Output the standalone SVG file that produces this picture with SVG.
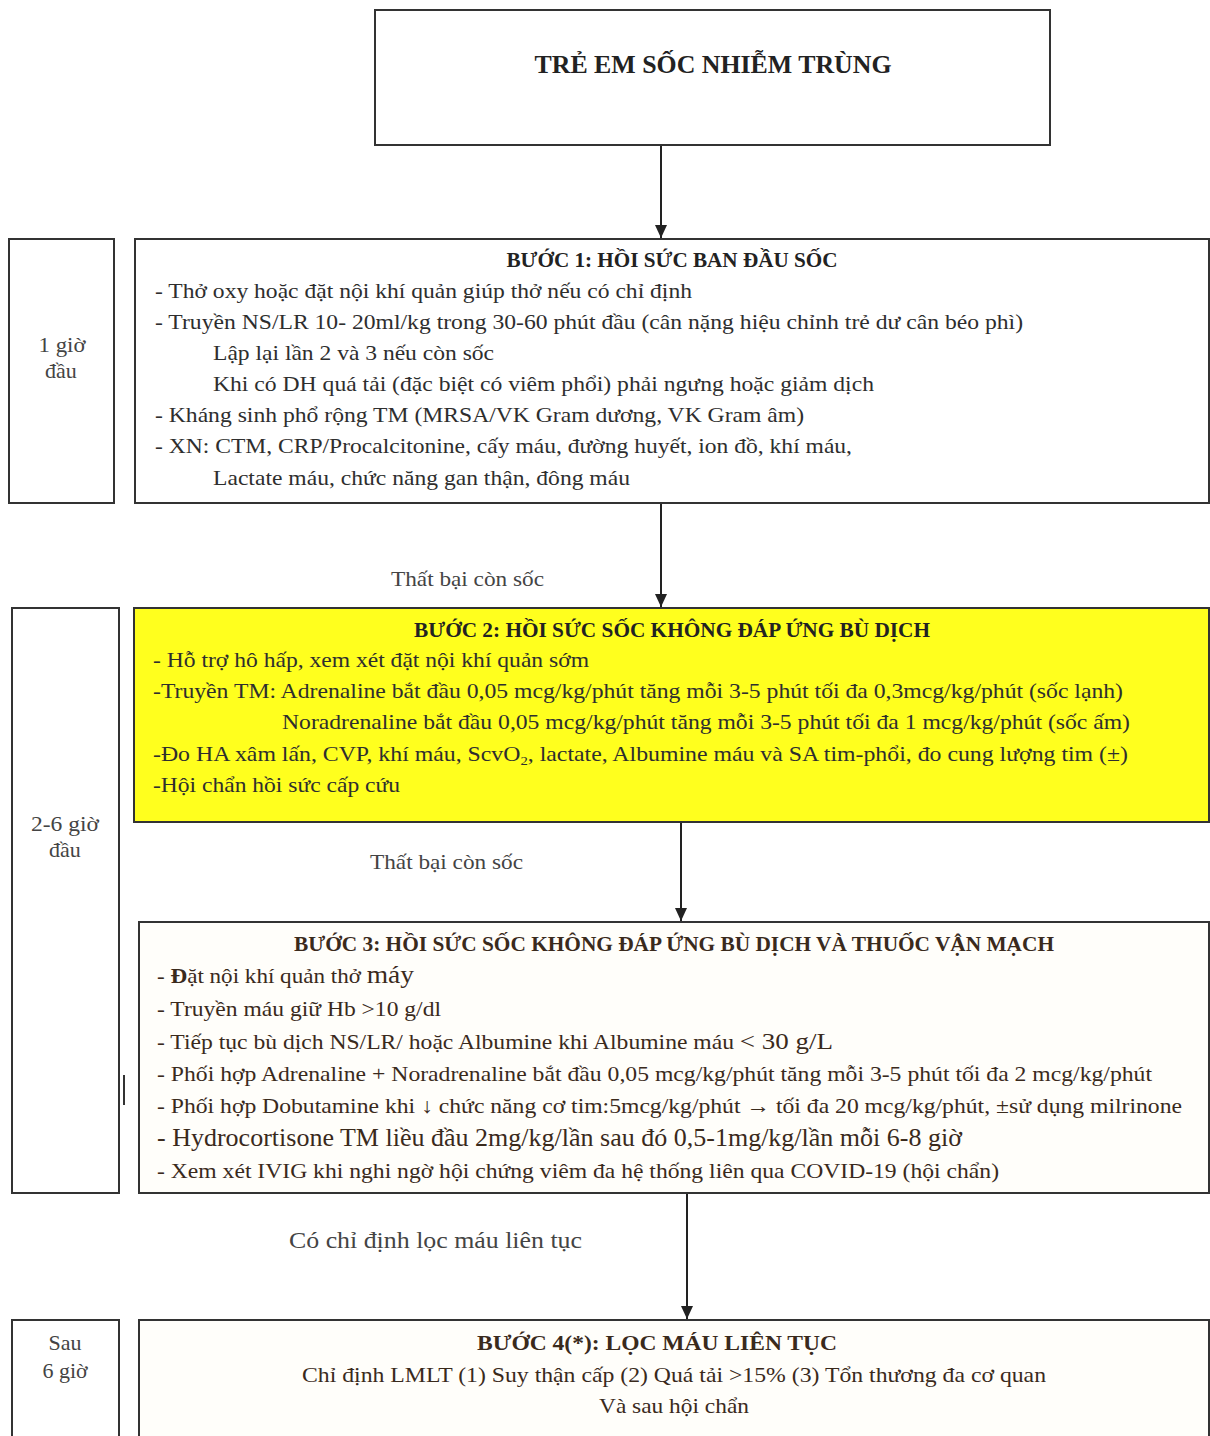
<svg xmlns="http://www.w3.org/2000/svg" width="1210" height="1436" viewBox="0 0 1210 1436">
<style>
.box{fill:#fff;stroke:#333;stroke-width:2}
.yel{fill:#ffff1e;stroke:#333;stroke-width:2}
.cream{fill:#fffefa;stroke:#333;stroke-width:2}
text{font-family:"Liberation Serif","Times New Roman",serif;fill:#2e2e2e}
.h{font-weight:bold;font-size:20px;text-anchor:middle;fill:#222}
.t{font-size:21px}
.s{font-size:22px;text-anchor:middle;fill:#444}
.b{fill:#3a2a1c}
.lbl{font-size:22px;fill:#444}
.conn{stroke:#222;stroke-width:2;fill:none;marker-end:url(#ah)}
</style>
<defs>
<marker id="ah" markerWidth="13" markerHeight="12" refX="13" refY="6" orient="auto" markerUnits="userSpaceOnUse" viewBox="0 0 13 12">
<path d="M0,0 L13,6 L0,12 Z" fill="#222"/>
</marker>
</defs>
<rect width="1210" height="1436" fill="#fff"/>

<g id="connectors">
<line class="conn" x1="661" y1="145" x2="661" y2="238"/>
<line class="conn" x1="661" y1="504" x2="661" y2="607"/>
<text class="lbl" x="391" y="586" textLength="153" lengthAdjust="spacingAndGlyphs">Thất bại còn sốc</text>
<line class="conn" x1="681" y1="822" x2="681" y2="921"/>
<text class="lbl" x="370" y="869" textLength="153" lengthAdjust="spacingAndGlyphs">Thất bại còn sốc</text>
<line class="conn" x1="687" y1="1194" x2="687" y2="1319"/>
<text class="lbl" x="289" y="1248" style="font-size:24px" textLength="293" lengthAdjust="spacingAndGlyphs">Có chỉ định lọc máu liên tục</text>
<line x1="124" y1="1075" x2="124" y2="1105" stroke="#333" stroke-width="2"/>
</g>

<g id="title">
<rect class="box" x="375" y="10" width="675" height="135"/>
<text class="h" x="713" y="73" style="font-size:25px" textLength="357" lengthAdjust="spacingAndGlyphs">TRẺ EM SỐC NHIỄM TRÙNG</text>
</g>

<g id="time1">
<rect class="box" x="9" y="239" width="105" height="264"/>
<text class="s" x="62" y="352" textLength="47" lengthAdjust="spacingAndGlyphs">1 giờ</text>
<text class="s" x="61" y="378">đầu</text>
</g>

<g id="step1">
<rect class="box" x="135" y="239" width="1074" height="264"/>
<text class="h" x="672" y="267" textLength="331" lengthAdjust="spacingAndGlyphs">BƯỚC 1: HỒI SỨC BAN ĐẦU SỐC</text>
<text class="t" x="155" y="298" textLength="537" lengthAdjust="spacingAndGlyphs">- Thở oxy hoặc đặt nội khí quản giúp thở nếu có chỉ định</text>
<text class="t" x="155" y="329" textLength="868" lengthAdjust="spacingAndGlyphs">- Truyền NS/LR 10- 20ml/kg trong 30-60 phút đầu (cân nặng hiệu chỉnh trẻ dư cân béo phì)</text>
<text class="t" x="213" y="360" textLength="281" lengthAdjust="spacingAndGlyphs">Lập lại lần 2 và 3 nếu còn sốc</text>
<text class="t" x="213" y="391" textLength="661" lengthAdjust="spacingAndGlyphs">Khi có DH quá tải (đặc biệt có viêm phổi) phải ngưng hoặc giảm dịch</text>
<text class="t" x="155" y="422" textLength="649" lengthAdjust="spacingAndGlyphs">- Kháng sinh phổ rộng TM (MRSA/VK Gram dương, VK Gram âm)</text>
<text class="t" x="155" y="453" textLength="697" lengthAdjust="spacingAndGlyphs">- XN: CTM, CRP/Procalcitonine, cấy máu, đường huyết, ion đồ, khí máu,</text>
<text class="t" x="213" y="485" textLength="417" lengthAdjust="spacingAndGlyphs">Lactate máu, chức năng gan thận, đông máu</text>
</g>

<g id="time2">
<rect class="box" x="12" y="608" width="107" height="585"/>
<text class="s" x="65" y="831" textLength="68" lengthAdjust="spacingAndGlyphs">2-6 giờ</text>
<text class="s" x="65" y="857">đầu</text>
</g>

<g id="step2">
<rect class="yel" x="134" y="608" width="1075" height="214"/>
<text class="h" x="672" y="637" textLength="516" lengthAdjust="spacingAndGlyphs">BƯỚC 2: HỒI SỨC SỐC KHÔNG ĐÁP ỨNG BÙ DỊCH</text>
<text class="t" x="153" y="667" textLength="436" lengthAdjust="spacingAndGlyphs">- Hỗ trợ hô hấp, xem xét đặt nội khí quản sớm</text>
<text class="t" x="153" y="698" textLength="970" lengthAdjust="spacingAndGlyphs">-Truyền TM: Adrenaline bắt đầu 0,05 mcg/kg/phút tăng mỗi 3-5 phút tối đa 0,3mcg/kg/phút (sốc lạnh)</text>
<text class="t" x="282" y="729" textLength="848" lengthAdjust="spacingAndGlyphs">Noradrenaline bắt đầu 0,05 mcg/kg/phút tăng mỗi 3-5 phút tối đa 1 mcg/kg/phút (sốc ấm)</text>
<text class="t" x="153" y="761" textLength="975" lengthAdjust="spacingAndGlyphs">-Đo HA xâm lấn, CVP, khí máu, ScvO<tspan font-size="13" dy="4">2</tspan><tspan dy="-4">, lactate, Albumine máu và SA tim-phổi, đo cung lượng tim (±)</tspan></text>
<text class="t" x="153" y="792" textLength="247" lengthAdjust="spacingAndGlyphs">-Hội chẩn hồi sức cấp cứu</text>
</g>

<g id="step3">
<rect class="cream" x="139" y="922" width="1070" height="271"/>
<text class="h b" x="674" y="951" textLength="760" lengthAdjust="spacingAndGlyphs">BƯỚC 3: HỒI SỨC SỐC KHÔNG ĐÁP ỨNG BÙ DỊCH VÀ THUỐC VẬN MẠCH</text>
<text class="t b" x="157" y="983" textLength="257" lengthAdjust="spacingAndGlyphs">- <tspan font-weight="bold">Đ</tspan>ặt nội khí quản thở <tspan font-size="25">máy</tspan></text>
<text class="t b" x="157" y="1016" textLength="284" lengthAdjust="spacingAndGlyphs">- Truyền máu giữ Hb &gt;10 g/dl</text>
<text class="t b" x="157" y="1049" textLength="676" lengthAdjust="spacingAndGlyphs">- Tiếp tục bù dịch NS/LR/ hoặc Albumine khi Albumine máu <tspan font-size="24">&lt; 30 g/L</tspan></text>
<text class="t b" x="157" y="1081" textLength="995" lengthAdjust="spacingAndGlyphs">- Phối hợp Adrenaline + Noradrenaline bắt đầu 0,05 mcg/kg/phút tăng mỗi 3-5 phút tối đa 2 mcg/kg/phút</text>
<text class="t b" x="157" y="1113" textLength="1025" lengthAdjust="spacingAndGlyphs">- Phối hợp Dobutamine khi ↓ chức năng cơ tim:5mcg/kg/phút → tối đa 20 mcg/kg/phút, ±sử dụng milrinone</text>
<text class="t b" x="157" y="1146" style="font-size:25px" textLength="805" lengthAdjust="spacingAndGlyphs">- Hydrocortisone TM liều đầu 2mg/kg/lần sau đó 0,5-1mg/kg/lần mỗi 6-8 giờ</text>
<text class="t b" x="157" y="1178" textLength="842" lengthAdjust="spacingAndGlyphs">- Xem xét IVIG khi nghi ngờ hội chứng viêm đa hệ thống liên qua COVID-19 (hội chẩn)</text>
</g>

<g id="time3">
<rect class="box" x="12" y="1320" width="107" height="130"/>
<text class="s" x="65" y="1350">Sau</text>
<text class="s" x="65" y="1378">6 giờ</text>
</g>

<g id="step4">
<rect class="cream" x="139" y="1320" width="1070" height="130"/>
<text class="h b" x="657" y="1350" style="font-size:22px" textLength="360" lengthAdjust="spacingAndGlyphs">BƯỚC 4(*): LỌC MÁU LIÊN TỤC</text>
<text class="t b" x="674" y="1382" style="text-anchor:middle" textLength="744" lengthAdjust="spacingAndGlyphs">Chỉ định LMLT (1) Suy thận cấp (2) Quá tải &gt;15% (3) Tổn thương đa cơ quan</text>
<text class="t b" x="674" y="1413" style="text-anchor:middle" textLength="150" lengthAdjust="spacingAndGlyphs">Và sau hội chẩn</text>
</g>
</svg>
